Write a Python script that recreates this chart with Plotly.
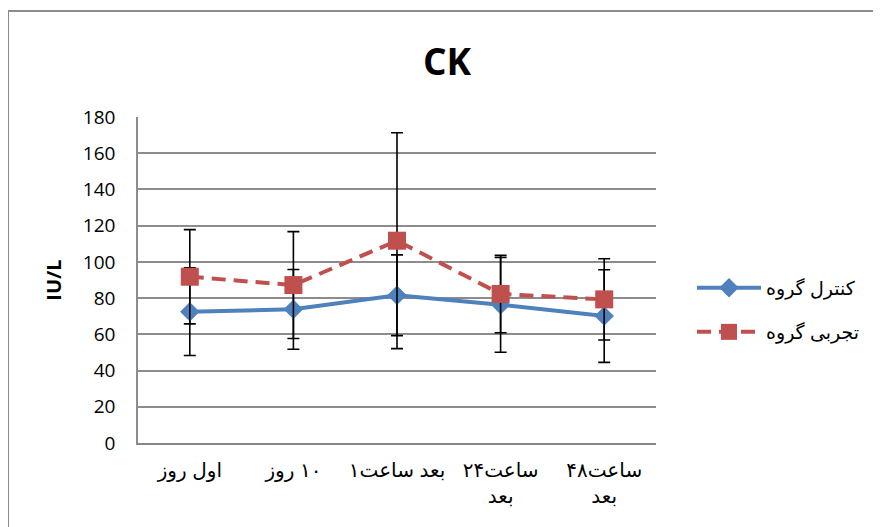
import plotly.graph_objects as go

LRM = "\u200e"
LRE, PDF = "\u202a", "\u202c"

def ltr(*words):
    # keep the word order left-to-right as in the original chart
    return LRE + LRM.join(words) + PDF

categories = [
    ltr("روز", " اول"),
    ltr("روز", " ۱۰"),
    ltr("۱", "ساعت", " بعد"),
    ltr("۲۴", "ساعت") + "<br>بعد",
    ltr("۴۸", "ساعت") + "<br>بعد",
]
control_name = ltr("گروه", " کنترل")
exp_name = ltr("گروه", " تجربی")
control_values = [72.5, 73.8, 81.6, 76.3, 70.1]
control_err = [24.2, 22.0, 22.3, 26.2, 25.6]
exp_values = [91.8, 87.2, 111.7, 82.3, 79.3]
exp_err = [26.0, 29.5, 59.6, 21.4, 22.4]
y_ticks = [0, 20, 40, 60, 80, 100, 120, 140, 160, 180]

OFF = 8  # page body margin
W, H = 881 - OFF, 527 - OFF
# plot area in screenshot pixels: x 138..656, y 117..443
L, T = 138 - OFF, 117 - OFF
R = W - (656 - OFF)
B = H - (443 - OFF)
pw, ph = W - L - R, H - T - B

def px_x(p):
    return (p - OFF - L) / pw

def px_y(p):
    return (H - B - (p - OFF)) / ph

AR_FONT = "Arial, Liberation Sans, DejaVu Sans"
NUM_FONT = "Open Sans, Liberation Sans"

fig = go.Figure()
fig.add_trace(go.Scatter(
    x=categories, y=control_values, name=control_name, mode="lines+markers",
    line=dict(color="#4F81BD", width=4),
    marker=dict(symbol="diamond", size=15, color="#4F81BD"),
    error_y=dict(type="data", array=control_err, visible=True, color="black", thickness=1.6, width=6),
    legend="legend",
))
fig.add_trace(go.Scatter(
    x=categories, y=exp_values, name=exp_name, mode="lines+markers",
    line=dict(color="#C0504D", width=4, dash="14px,8px"),
    marker=dict(symbol="square", size=18, color="#C0504D"),
    error_y=dict(type="data", array=exp_err, visible=True, color="black", thickness=1.6, width=6),
    legend="legend2",
))

fig.update_layout(
    width=W, height=H,
    margin=dict(l=L, r=R, t=T, b=B, autoexpand=False),
    paper_bgcolor="white", plot_bgcolor="white",
    font=dict(family=AR_FONT, color="black", size=16),
    title=dict(text="<b>CK</b>", x=(447 - OFF) / W, xref="container", xanchor="center",
               y=1 - (62 - OFF) / H, yref="container", yanchor="middle",
               font=dict(size=37, family=NUM_FONT, color="black")),
    showlegend=True,
    legend=dict(x=px_x(692), y=px_y(288), xanchor="left", yanchor="middle",
                itemwidth=64, font=dict(size=19, family=AR_FONT), bgcolor="rgba(0,0,0,0)"),
    legend2=dict(x=px_x(692), y=px_y(332), xanchor="left", yanchor="middle",
                 itemwidth=64, font=dict(size=19, family=AR_FONT), bgcolor="rgba(0,0,0,0)"),
    shapes=[dict(type="rect", xref="paper", yref="paper",
                 x0=px_x(8), x1=2, y0=-1, y1=px_y(11),
                 line=dict(color="#8c8c8c", width=2), fillcolor="rgba(0,0,0,0)", layer="below")],
)
fig.update_xaxes(
    type="category", range=[-0.5, 4.5], showgrid=False,
    showline=True, linecolor="#868686", linewidth=2,
    ticks="outside", ticklen=8, tickcolor="rgba(0,0,0,0)",
    tickfont=dict(size=20, family=AR_FONT),
)
fig.update_yaxes(
    range=[0, 180], tickvals=y_ticks, showgrid=True, gridcolor="#8c8c8c", gridwidth=1.5,
    showline=True, linecolor="#8c8c8c", linewidth=1.5, zeroline=False,
    ticks="outside", ticklen=17, tickcolor="rgba(0,0,0,0)",
    tickfont=dict(size=19, family=NUM_FONT),
    title=dict(text="<b>IU/L</b>", font=dict(size=20, family=NUM_FONT), standoff=16),
)

fig.write_html("out.html")
